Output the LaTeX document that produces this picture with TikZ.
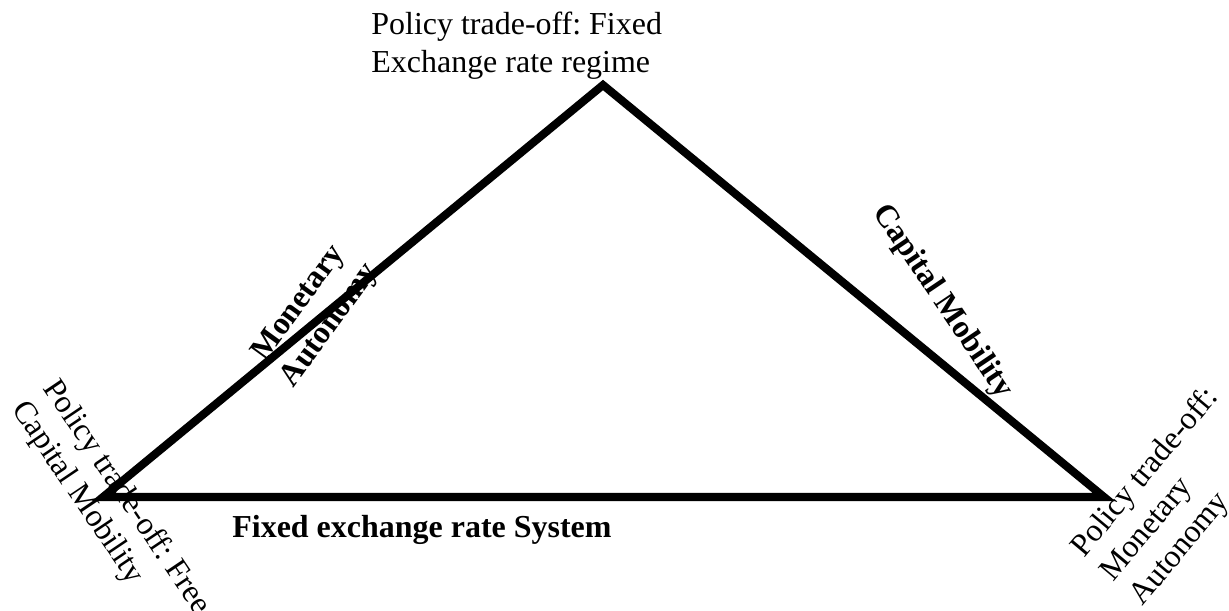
\documentclass[tikz,border=0pt]{standalone}
\usepackage{fontspec}
\setmainfont{Liberation Serif}
\usepackage{tikz}
\usetikzlibrary{positioning}
\frenchspacing

\begin{document}
\begin{tikzpicture}[
    x=0.02cm, y=-0.02cm,
    edge/.style={draw=black, line width=4.6pt, line join=miter},
    corner/.style={inner sep=0pt, align=left, font=\fontsize{18.2}{21.5}\selectfont},
    side/.style={inner sep=0pt, align=center, font=\fontsize{18.2}{21.5}\selectfont\bfseries}
]
\useasboundingbox (0,0) rectangle (1229,610);

% Vertices of the trilemma
\coordinate (fixed)   at (603,85);
\coordinate (capital) at (103,497);
\coordinate (monet)   at (1104,497);

% Triangle
\draw[edge] (capital) -- (fixed) -- (monet) -- cycle;

% Side labels (base = last line)
\node[side, anchor=base, rotate=54]  (autonomy) at (336,330) {Monetary\\Autonomy};
\node[side, anchor=base, rotate=-56] (mobility) at (936,306) {Capital Mobility};
\node[side, anchor=base west]        (system)   at (232,537) {Fixed exchange rate System};

% Corner labels
\node[corner, anchor=base west]             (tradeA) at (371,72)   {Policy trade-off: Fixed\\Exchange rate regime};
\node[corner, anchor=base west, rotate=-56] (tradeB) at (11,409)   {Policy trade-off: Free\\Capital Mobility};
\node[corner, anchor=base west, rotate=50]  (tradeC) at (1142,607) {Policy trade-off:\\Monetary\\Autonomy};

\end{tikzpicture}
\end{document}
